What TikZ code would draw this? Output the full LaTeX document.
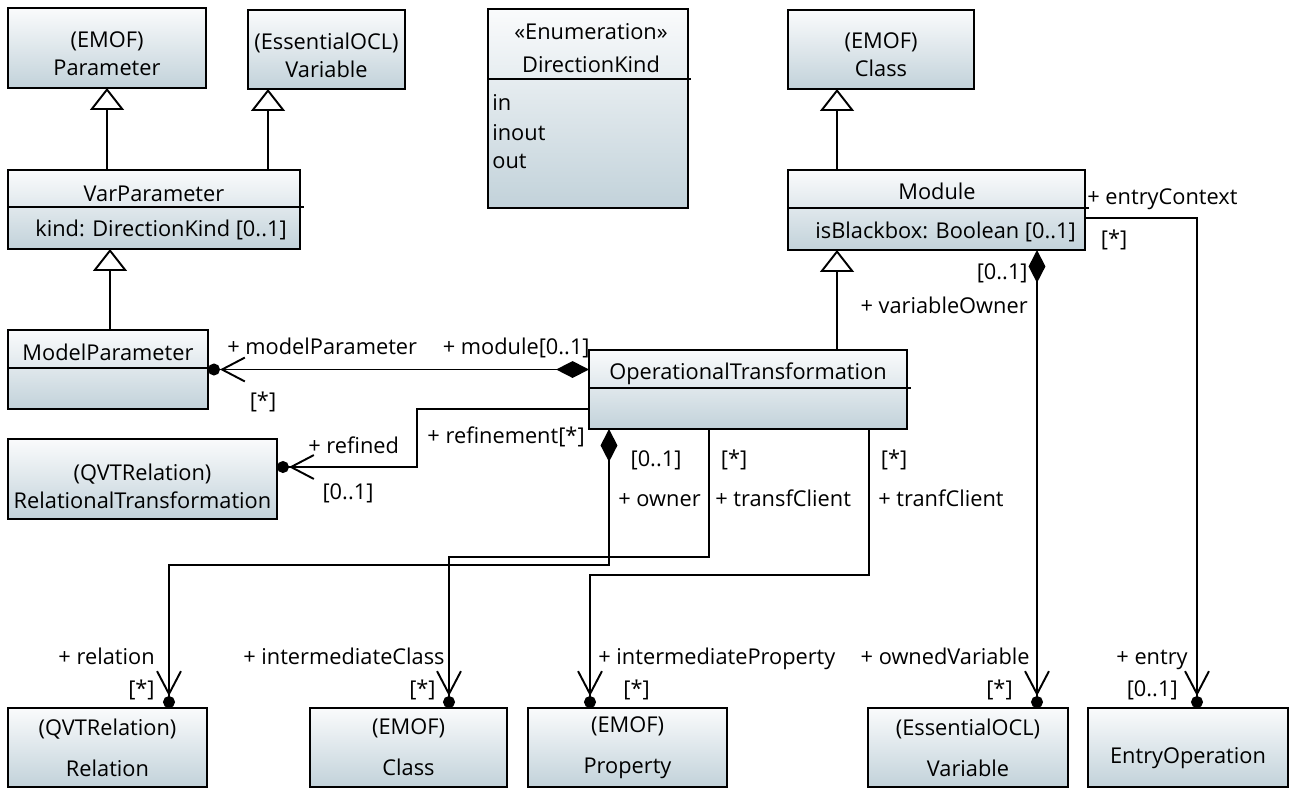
\documentclass[tikz,border=0pt]{standalone}
\usepackage{fontspec}
\setmainfont{Open Sans}
\usetikzlibrary{arrows.meta}

\definecolor{boxtop}{RGB}{250,251,252}
\definecolor{boxbot}{RGB}{194,210,218}

\tikzset{
  box/.style 2 args={draw, line width=1.2pt, top color=boxtop, bottom color=boxbot,
    minimum width=#1*0.02cm, minimum height=#2*0.02cm, text width=#1*0.02cm,
    inner sep=0pt, outer sep=0pt, align=center},
  txt/.style={inner sep=0pt, align=center},
  wide/.style={font=\fontsize{12.4}{23.2}\selectfont},
  lbl/.style={inner sep=0pt, text height=1.33ex, text depth=0pt},
  gen/.style={line width=1.1pt, -{Triangle[open, length=12.5pt, width=19.3pt, fill=white]}},
  nav/.style={line width=1.1pt, -{Straight Barb[length=13pt, width=13.6pt] Circle[length=6.8pt]}},
  own/.style={line width=1.1pt, {Diamond[length=18.7pt, width=9.6pt]}-{Straight Barb[length=13pt, width=13.6pt] Circle[length=6.8pt]}}
}

\begin{document}
\begin{tikzpicture}[x=0.02cm, y=-0.02cm, font=\fontsize{12.4}{16}\selectfont]
\useasboundingbox (0,0) rectangle (1290,789);

% 1. 类框
\node[box={198}{80}] (par) at (107,48) {};
\node[box={157}{79}] (oclvar) at (326.5,49.5) {};
\node[box={200}{199}] (dirkind) at (588,108.5) {};
\node[box={186}{79}] (emofcls) at (881,49.5) {};
\node[box={292}{79}] (varparam) at (154,209.5) {};
\node[box={297}{80}] (module) at (936.5,210) {};
\node[box={200}{79}] (modelparam) at (108,369.5) {};
\node[box={318}{79}] (optrans) at (748,389.5) {};
\node[box={269}{80}] (reltrans) at (142.5,479) {};
\node[box={199}{79}, wide] (relation) at (107.5,747.5) {(QVTRelation)\\Relation};
\node[box={197}{79}, wide] (cls) at (408.5,747.5) {(EMOF)\\Class};
\node[box={199}{79}, wide] (prop) at (627.5,747.5) {(EMOF)\\Property};
\node[box={200}{79}, wide] (var) at (968,747.5) {(EssentialOCL)\\Variable};
\node[box={200}{79}] (entryop) at (1188,747.5) {};

% 2. 框内文字
\node[txt] (partxt) at ([yshift=-0.11cm]par) {(EMOF)\\Parameter};
\node[txt] (oclvartxt) at ([yshift=-0.11cm]oclvar) {(EssentialOCL)\\Variable};
\node[txt] (emofclstxt) at ([yshift=-0.11cm]emofcls) {(EMOF)\\Class};
\node[txt] (reltranstxt) at ([yshift=-0.14cm]reltrans) {(QVTRelation)\\RelationalTransformation};
\node[txt] (entryoptxt) at ([yshift=-0.22cm]entryop) {EntryOperation};
\foreach \xa/\xb/\y in {8/304/207, 788/1089/208, 8/208/368, 589/911/388, 488/691/79}
    {\draw[line width=1.2pt] (\xa,\y) -- (\xb,\y);}
\node[lbl] (vpname) at (154,195) {VarParameter};
\node[lbl, anchor=west] (vpattr) at (35,230) {kind: DirectionKind [0..1]};
\node[lbl] (modname) at (937,193) {Module};
\node[lbl, anchor=west] (modattr) at (815,232) {isBlackbox: Boolean [0..1]};
\node[lbl] (mpname) at (108,354) {ModelParameter};
\node[lbl] (otname) at (748,373) {OperationalTransformation};
\node[lbl] (dkster) at (591,33) {«Enumeration»};
\node[lbl] (dkname) at (591,66) {DirectionKind};
\foreach \lit/\y in {in/110, inout/140, out/168}
    {\node[anchor=base west, inner sep=0pt] (lit\lit) at (492,\y) {\lit};}

% 3. 泛化
\coordinate (g1) at (107,170);
\coordinate (g2) at (268,170);
\coordinate (g3) at (110,330);
\coordinate (g4) at (837,350);
\coordinate (g5) at (837,170);
\draw[gen] (g1) -- (g1 |- par.south);
\draw[gen] (g2) -- (g2 |- oclvar.south);
\draw[gen] (g3) -- (g3 |- varparam.south);
\draw[gen] (g4) -- (g4 |- module.south);
\draw[gen] (g5) -- (g5 |- emofcls.south);

% 4. 关联
\draw[own] (modelparam.east -| optrans.west) -- (modelparam.east);
\draw[nav] (optrans.west |- 0,409) -- (417,409) -- (417,467) -- (reltrans.east |- 0,467);
\draw[own] (optrans.south -| 609,0) -- (609,565) -- (169,565) -- (relation.north -| 169,0);
\draw[nav] (optrans.south -| 709,0) -- (709,557) -- (449,557) -- (cls.north -| 449,0);
\draw[nav] (optrans.south -| 869,0) -- (869,575) -- (590,575) -- (prop.north -| 590,0);
\draw[own] (module.south -| 1037,0) -- (var.north -| 1037,0);
\draw[nav] (module.east |- 0,218) -- (1197,218) -- (entryop.north -| 1197,0);

% 5. 角色名与重数
\foreach \x/\y/\a/\t [count=\i] in
    {227/348/west/{+ modelParameter}, 590/348/east/{+ module[0..1]},
     263/402/center/{[*]}, 308/447/west/{+ refined}, 348/493/center/{[0..1]},
     585/437/east/{+ refinement[*]}, 656/460/center/{[0..1]}, 618/500/west/{+ owner},
     734/460/center/{[*]}, 715/500/west/{+ transfClient},
     894/460/center/{[*]}, 878/500/west/{+ tranfClient},
     1028/307/east/{+ variableOwner}, 1028/273/east/{[0..1]},
     1087/198/west/{+ entryContext}, 1114/240/center/{[*]},
     155/658/east/{+ relation}, 155/690/east/{[*]},
     445/658/east/{+ intermediateClass}, 436/690/east/{[*]},
     598/658/west/{+ intermediateProperty}, 623/690/west/{[*]},
     1030/658/east/{+ ownedVariable}, 1013/690/east/{[*]},
     1188/658/east/{+ entry}, 1178/690/east/{[0..1]}}
    {\node[lbl, anchor=\a] (role\i) at (\x,\y) {\t};}
\end{tikzpicture}
\end{document}
